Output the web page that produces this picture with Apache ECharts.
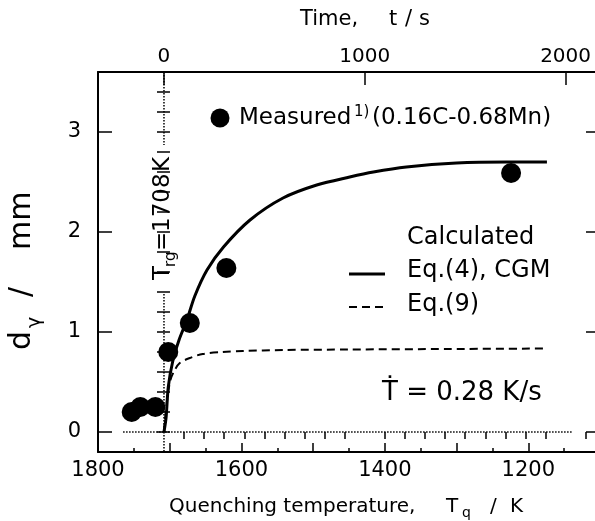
<!DOCTYPE html>
<html><head><meta charset="utf-8">
<script src="https://cdn.jsdelivr.net/npm/echarts@6/dist/echarts.min.js"></script>
<style>html,body{margin:0;padding:0;background:#fff;}#c{width:595px;height:521px;}</style>
</head><body><div id="c"></div>
<script>
// ---- data ----
const tempLabels = [1200, 1400, 1600, 1800];
const timeLabels = [0, 1000, 2000];
const dLabels = [0, 1, 2, 3];
const trg = 1708;          // K
const rate = 0.28;         // K/s
const measuredT = [1753, 1741, 1720, 1702, 1672, 1621, 1224];
const measuredD = [0.20, 0.25, 0.25, 0.80, 1.09, 1.64, 2.59];
const cgmT = [1708, 1705, 1702, 1696, 1687, 1676, 1665, 1648, 1625, 1588, 1542, 1495, 1449, 1416, 1370, 1300, 1230, 1174];
const cgmD = [0, 0.15, 0.45, 0.70, 0.92, 1.12, 1.36, 1.62, 1.85, 2.12, 2.34, 2.47, 2.55, 2.60, 2.65, 2.69, 2.70, 2.70];
const eq9T = [1708, 1704, 1699, 1693, 1686, 1672, 1654, 1626, 1598, 1542, 1449, 1309, 1174];
const eq9D = [0, 0.30, 0.52, 0.62, 0.69, 0.74, 0.78, 0.80, 0.81, 0.82, 0.825, 0.83, 0.835];
const zeroLineT = [1765, 1139];
const trgGapD = [2.87, 1.38];

const tMin = 1100, tMaxK = 1800, dMin = -0.2, dMax = 3.6;
const timeMin = (trg - tMaxK) / rate, timeMax = (trg - tMin) / rate;
const timeMinor = [];
for (let v = 100; v <= 2100; v += 100) if (v % 1000 !== 0) timeMinor.push(v);

const zip = (a, b) => a.map((v, i) => [v, b[i]]);
const FONT = 'DejaVu Sans';
const black = '#000';

const chart = echarts.init(document.getElementById('c'), null, {renderer: 'canvas'});

const txt = (text, x, y, size, extra) => Object.assign({
  type: 'text', x: x, y: y,
  style: {text: text, fill: black, font: size + 'px "' + FONT + '"', align: 'left', verticalAlign: 'middle'}
}, extra || {});

chart.setOption({
  backgroundColor: '#fff',
  animation: false,
  grid: {left: 98, right: -5, top: 72, bottom: 69, containLabel: false, outerBoundsMode: 'none'},
  xAxis: [
    {type: 'value', position: 'bottom', min: tMin, max: tMaxK, interval: 100, inverse: true,
     axisLine: {show: true, onZero: false, lineStyle: {color: black, width: 2}},
     axisTick: {inside: true, length: 9, lineStyle: {color: black, width: 1.5}},
     minorTick: {show: true, splitNumber: 2, length: 4, lineStyle: {color: black, width: 1.5}},
     axisLabel: {color: black, fontFamily: FONT, fontSize: 21, margin: 8,
       formatter: v => (tempLabels.indexOf(v) >= 0 ? String(v) : '')},
     splitLine: {show: false}, minorSplitLine: {show: false}},
    {type: 'value', position: 'top', min: timeMin, max: timeMax,
     axisLine: {show: true, onZero: false, lineStyle: {color: black, width: 2}},
     axisTick: {inside: true, length: 13, customValues: timeLabels, lineStyle: {color: black, width: 1.5}},
     axisLabel: {color: black, fontFamily: FONT, fontSize: 20, margin: 5, customValues: timeLabels,
       formatter: v => String(v)},
     splitLine: {show: false}},
    {type: 'value', position: 'top', min: timeMin, max: timeMax,
     axisLine: {show: false},
     axisTick: {inside: true, length: 7, customValues: timeMinor, lineStyle: {color: black, width: 1.5}},
     axisLabel: {show: false}, splitLine: {show: false}}
  ],
  yAxis: [
    {type: 'value', position: 'left', min: dMin, max: dMax,
     axisLine: {show: true, onZero: false, lineStyle: {color: black, width: 2}},
     axisTick: {inside: true, length: 14, customValues: dLabels, lineStyle: {color: black, width: 1.5}},
     axisLabel: {color: black, fontFamily: FONT, fontSize: 21, margin: 17, customValues: dLabels,
       formatter: v => String(v)},
     splitLine: {show: false}},
    {type: 'value', position: 'left', min: dMin, max: dMax, interval: 0.2,
     axisLine: {show: false},
     axisTick: {inside: true, length: 6, lineStyle: {color: black, width: 1.5}},
     axisLabel: {show: false}, splitLine: {show: false}},
    {type: 'value', position: 'right', min: dMin, max: dMax,
     axisLine: {show: true, onZero: false, lineStyle: {color: black, width: 2}},
     axisTick: {inside: true, length: 14, customValues: dLabels, lineStyle: {color: black, width: 1.5}},
     axisLabel: {show: false}, splitLine: {show: false}},
    {type: 'value', position: 'right', min: dMin, max: dMax, interval: 0.2,
     axisLine: {show: false},
     axisTick: {inside: true, length: 7, lineStyle: {color: black, width: 1.5}},
     axisLabel: {show: false}, splitLine: {show: false}}
  ],
  series: [
    {type: 'line', data: [[zeroLineT[0], 0], [zeroLineT[1], 0]], symbol: 'none',
     lineStyle: {color: black, width: 1.5, type: [1.5, 1.5]}, silent: true},
    {type: 'line', data: [[trg, dMax], [trg, trgGapD[0]]], symbol: 'none',
     lineStyle: {color: black, width: 1.5, type: [1.5, 1.5]}, silent: true},
    {type: 'line', data: [[trg, trgGapD[1]], [trg, dMin]], symbol: 'none',
     lineStyle: {color: black, width: 1.5, type: [1.5, 1.5]}, silent: true},
    {type: 'line', name: 'Eq.(9)', data: zip(eq9T, eq9D), symbol: 'none', smooth: 0.3,
     lineStyle: {color: black, width: 2, type: [8, 5]}},
    {type: 'line', name: 'Eq.(4), CGM', data: zip(cgmT, cgmD), symbol: 'none', smooth: 0.3,
     lineStyle: {color: black, width: 3}},
    {type: 'scatter', name: 'Measured', data: zip(measuredT, measuredD), symbol: 'circle', symbolSize: 20,
     itemStyle: {color: black, opacity: 1}}
  ],
  graphic: [
    // top axis title
    txt('Time,', 300, 20, 21), txt('t', 389, 20, 21), txt('/', 405, 20, 21), txt('s', 419, 20, 21),
    // bottom axis title
    txt('Quenching temperature,', 169, 507, 20), txt('T', 446, 507, 20), txt('q', 462, 513, 14),
    txt('/', 490, 507, 20), txt('K', 510, 507, 20),
    // y axis title (rotated)
    {type: 'group', x: 22, y: 350, rotation: Math.PI / 2, children: [
      txt('d', 0, 0, 30), txt('γ', 22, 13, 19), txt('/', 53, 0, 30), txt('mm', 100, 0, 30)
    ]},
    // Trg label (rotated)
    {type: 'group', x: 163, y: 280, rotation: Math.PI / 2, children: [
      txt('T', 0, 0, 23), txt('rg', 13, 8, 15), txt('=', 29, 0, 23), txt('1708', 48, 0, 23), txt('K', 108, 0, 23)
    ]},
    // measured legend
    {type: 'circle', shape: {cx: 220, cy: 118, r: 9.5}, style: {fill: black}},
    txt('Measured', 239, 118, 23), txt('1)', 354, 112, 15), txt('(0.16C-0.68Mn)', 372, 118, 23),
    // calculated legend
    txt('Calculated', 407, 238, 24),
    {type: 'line', shape: {x1: 349, y1: 274, x2: 385, y2: 274}, style: {stroke: black, lineWidth: 3}},
    txt('Eq.(4), CGM', 407, 271, 24),
    {type: 'line', shape: {x1: 349, y1: 307, x2: 385, y2: 307}, style: {stroke: black, lineWidth: 2, lineDash: [8, 5]}},
    txt('Eq.(9)', 407, 305, 24),
    // cooling rate
    txt('Ṫ = 0.28 K/s', 382, 393, 26)
  ]
});
</script></body></html>
